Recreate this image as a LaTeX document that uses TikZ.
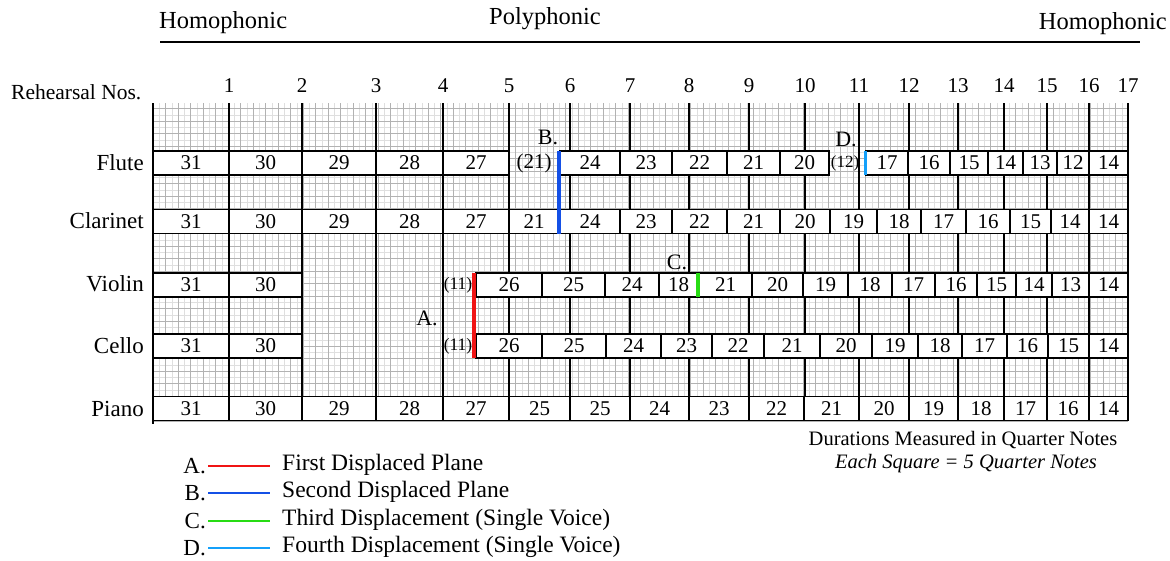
\documentclass[tikz,border=0pt]{standalone}
\usepackage{fontspec}
\setmainfont{Liberation Serif}
\usetikzlibrary{positioning}

\definecolor{planeRed}{RGB}{240,20,20}
\definecolor{planeBlue}{RGB}{20,80,230}
\definecolor{planeGreen}{RGB}{40,220,20}
\definecolor{planeSky}{RGB}{20,160,250}
\newcommand{\fs}[1]{\fontsize{#1}{#1}\selectfont}

\begin{document}
\begin{tikzpicture}[
  x=1pt, y=-1pt,
  cell/.style={draw, line width=1.5pt, fill=white, inner sep=0pt, outer sep=0pt, minimum height=24pt, font=\fs{21}},
  paren/.style={inner sep=0pt, font=\fs{19}},
  instr/.style={anchor=east, inner sep=0pt, font=\fs{23}},
  tag/.style={inner sep=0pt, font=\fs{22}},
  reh/.style={line width=1.2pt},
  planeA/.style={planeRed, line width=3.2pt},
  planeB/.style={planeBlue, line width=3.2pt},
  planeC/.style={planeGreen, line width=3.2pt},
  planeD/.style={planeSky, line width=3.2pt}
]
  \useasboundingbox (0,0) rectangle (1170,560);

  % headings
  \node[anchor=west, inner sep=0pt, font=\fs{24.5}] (hom1) at (159,23) {Homophonic};
  \node[inner sep=0pt, font=\fs{24.5}] (poly) at (545,19) {Polyphonic};
  \node[anchor=east, inner sep=0pt, font=\fs{24.5}] (hom2) at (1167,24) {Homophonic};
  \draw[line width=2.2pt] (160,42) -- (1140,42);
  \node[anchor=west, inner sep=0pt, font=\fs{21.5}] (rnos) at (11,92) {Rehearsal Nos.};

  % graph paper
  \begin{scope}[y=1pt, shift={(153pt,-421pt)}]
    \draw[gray!25, line width=0.5pt, step=6.25pt] (0,0) grid (975,318);
    \draw[gray!60, line width=0.7pt, step=12.5pt] (0,0) grid (975,318);
  \end{scope}
  \foreach \n/\x in {1/229,2/302,3/376,4/443,5/509,6/570,7/630,8/689,9/749,10/805,11/859,12/909,13/958,14/1004,15/1047,16/1089,17/1128} {
    \draw[reh] (\x,103) -- (\x,421);
    \node[inner sep=0pt, font=\fs{21}] (r\n) at (\x,86) {\n};
  }
  \draw[line width=2.6pt] (153,103) -- (153,424);

  % instruments
  \node[instr] (flute) at (144,163) {Flute};
  \node[instr] (clar) at (144,221) {Clarinet};
  \node[instr] (violin) at (144,284) {Violin};
  \node[instr] (cello) at (144,346) {Cello};
  \node[instr] (piano) at (144,409) {Piano};

  \foreach \a/\b/\t [count=\i] in {153/229/31,229/302/30,302/376/29,376/443/28,443/509/27,560/620/24,620/672/23,672/727/22,727/780/21,780/829/20,866/908/17,908/950/16,950/988/15,988/1023/14,1023/1057/13,1057/1089/12,1089/1128/14}
    \node[cell, minimum width={(\b-\a)*1pt}] (fl-\i) at ({(\a+\b)/2},163) {\t};
  \foreach \a/\b/\t [count=\i] in {153/229/31,229/302/30,302/376/29,376/443/28,443/509/27,509/559/21,560/620/24,620/672/23,672/727/22,727/780/21,780/830/20,830/877/19,877/921/18,921/966/17,966/1010/16,1010/1051/15,1051/1089/14,1089/1128/14}
    \node[cell, minimum width={(\b-\a)*1pt}] (cl-\i) at ({(\a+\b)/2},221.5) {\t};
  \foreach \a/\b/\t [count=\i] in {153/229/31,229/302/30,476/542/26,542/605/25,605/659/24,659/698/18,699/752/21,752/803/20,803/848/19,848/892/18,892/935/17,935/977/16,977/1016/15,1016/1052/14,1052/1089/13,1089/1128/14}
    \node[cell, minimum width={(\b-\a)*1pt}] (vn-\i) at ({(\a+\b)/2},285) {\t};
  \foreach \a/\b/\t [count=\i] in {153/229/31,229/302/30,476/542/26,542/606/25,606/661/24,661/712/23,712/764/22,764/820/21,820/872/20,872/918/19,918/962/18,962/1007/17,1007/1048/16,1048/1089/15,1089/1128/14}
    \node[cell, minimum width={(\b-\a)*1pt}] (vc-\i) at ({(\a+\b)/2},346) {\t};
  \foreach \a/\b/\t [count=\i] in {153/229/31,229/302/30,302/376/29,376/443/28,443/509/27,509/570/25,570/630/25,630/689/24,689/749/23,749/804/22,804/859/21,859/909/20,909/958/19,958/1004/18,1004/1047/17,1047/1089/16,1089/1128/14}
    \node[cell, minimum width={(\b-\a)*1pt}] (pn-\i) at ({(\a+\b)/2},408.5) {\t};

  \node[paren, font=\fs{21}] (fl-p1) at (534,163) {(21)};
  \node[paren, font=\fs{17}] (fl-p2) at (845,163) {(12)};
  \node[paren, font=\fs{17.5}] (vn-p) at (458,285) {(11)};
  \node[paren, font=\fs{17.5}] (vc-p) at (458,346) {(11)};

  % displacements
  \draw[planeA] ([xshift=-2pt]vn-3.north west) -- ([xshift=-2pt]vc-3.south west);
  \draw[planeB] ([xshift=-1pt]fl-6.north west) -- ([xshift=-1pt]cl-7.south west);
  \draw[planeC] ([xshift=-1pt]vn-7.north west) -- ([xshift=-1pt]vn-7.south west);
  \draw[planeD] ([xshift=-0.5pt]fl-11.north west) -- ([xshift=-0.5pt]fl-11.south west);
  \node[tag] (tagA) at (427,318) {A.};
  \node[tag] (tagB) at (548,137) {B.};
  \node[tag] (tagC) at (677,262) {C.};
  \node[tag] (tagD) at (846,139) {D.};

  % notes
  \node[inner sep=0pt, font=\fs{20.5}] (dur) at (963,440) {Durations Measured in Quarter Notes};
  \node[inner sep=0pt, font=\fs{20.5}\itshape] (sq) at (966,464) {Each Square = 5 Quarter Notes};

  % legend
  \foreach \k/\c/\y/\t in {A/planeA/466/{First Displaced Plane},B/planeB/493/{Second Displaced Plane},C/planeC/521/{Third Displacement (Single Voice)},D/planeD/548/{Fourth Displacement (Single Voice)}} {
    \node[anchor=east, inner sep=0pt, font=\fs{23}] (key\k) at (206,\y) {\k.};
    \node[anchor=west, inner sep=0pt, font=\fs{23.5}] (txt\k) at (282,\y-1) {\t};
    \draw[\c, line width=2.2pt, shorten <=2pt, shorten >=12pt] (key\k.east) -- (key\k.east -| txt\k.west);
  }
\end{tikzpicture}
\end{document}
